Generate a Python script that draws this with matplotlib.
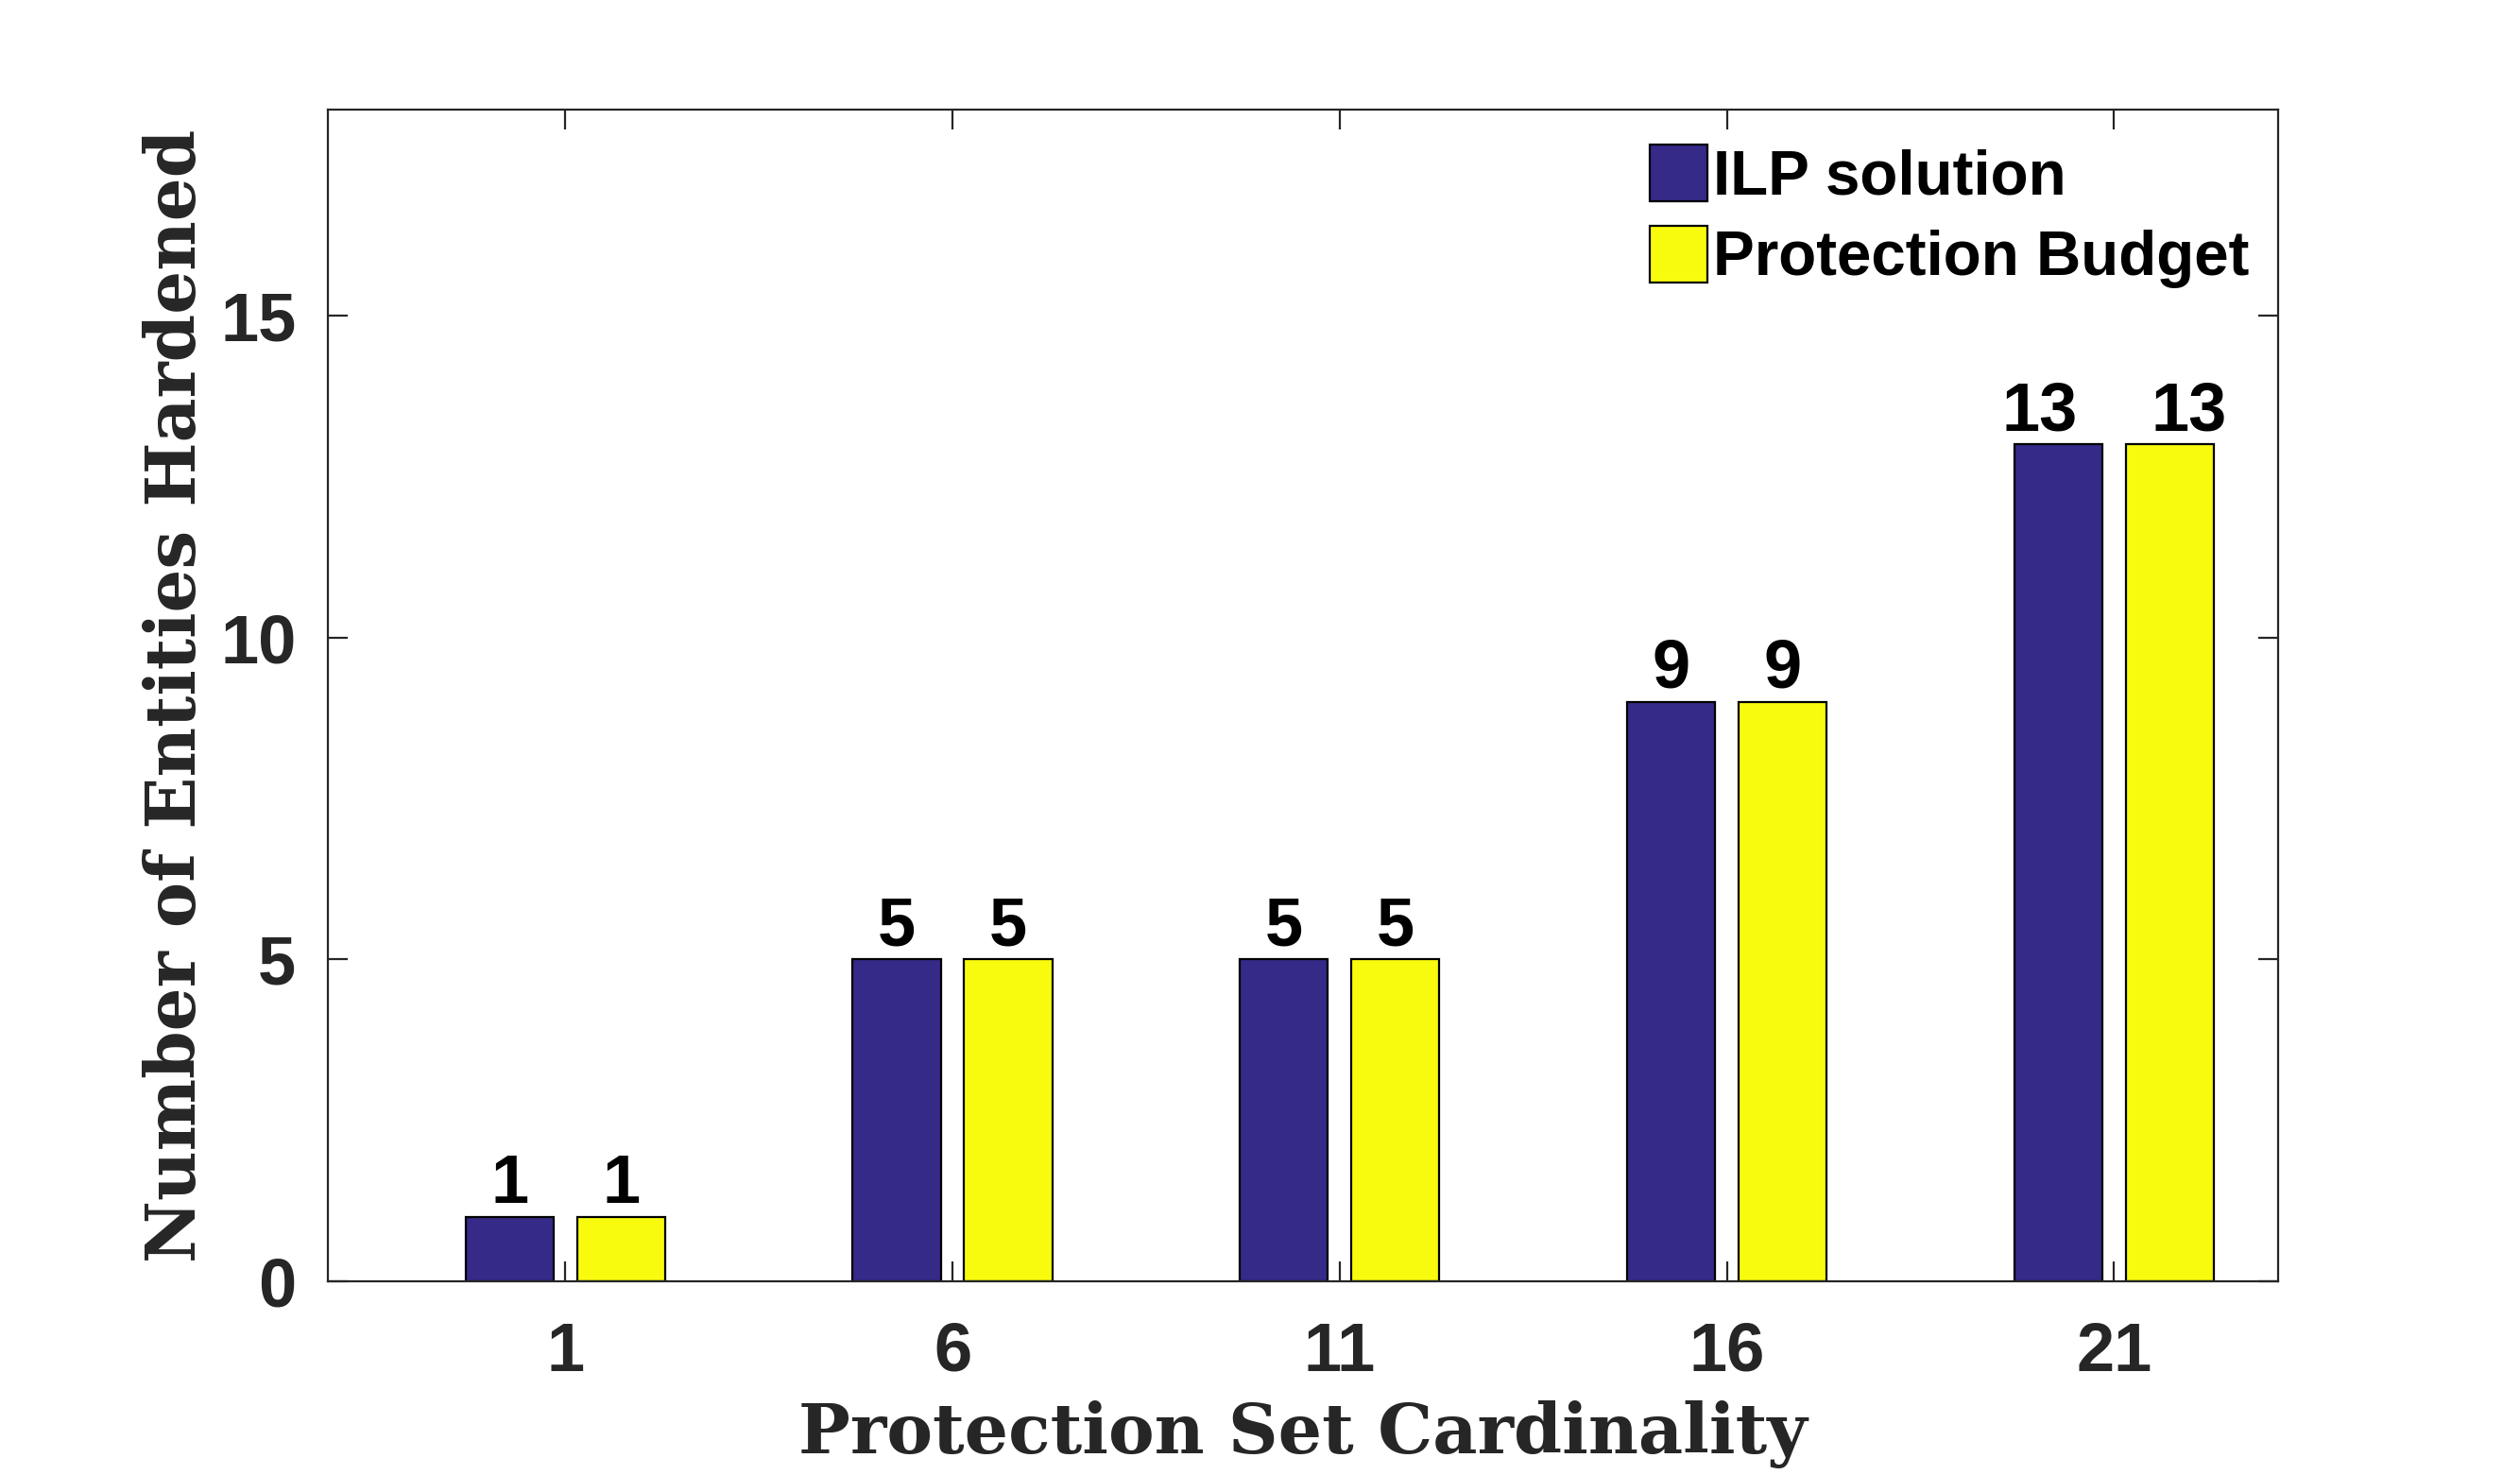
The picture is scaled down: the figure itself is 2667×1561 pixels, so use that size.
import numpy as np
import matplotlib
matplotlib.use("Agg")
import matplotlib.pyplot as plt

# data
cardinality = [1, 6, 11, 16, 21]
ilp_solution = [1, 5, 5, 9, 13]
protection_budget = [1, 5, 5, 9, 13]
series_names = ["ILP solution", "Protection Budget"]

blue = "#352a87"
yellow = "#f9fb0e"
axcol = "#262626"

fig = plt.figure(figsize=(2667 / 200, 1561 / 200), dpi=200)
ax = fig.add_axes([0.130, 0.1313, 0.774, 0.7944])

x = np.array(cardinality, dtype=float)
w = 1.14
off = 0.72
b1 = ax.bar(x - off, ilp_solution, w, color=blue, edgecolor="black", linewidth=0.8, label=series_names[0])
b2 = ax.bar(x + off, protection_budget, w, color=yellow, edgecolor="black", linewidth=0.8, label=series_names[1])

# value labels: first series right aligned, second left aligned (half a digit past centre)
lbl_size = 26
half_digit = 0.556 * lbl_size / 2
for bars, vals, ha, dx in ((b1, ilp_solution, "right", half_digit),
                           (b2, protection_budget, "left", -half_digit)):
    for r, v in zip(bars, vals):
        ax.annotate(str(v), (r.get_x() + r.get_width() / 2, r.get_height()),
                    xytext=(dx, 5.4), textcoords="offset points", ha=ha, va="baseline",
                    fontsize=lbl_size, fontweight="bold", family="Liberation Sans", color="black")

ax.set_xlim(-2.07, 23.12)
ax.set_ylim(0, 18.2)
ax.set_xticks(cardinality)
ax.set_yticks([0, 5, 10, 15])
ax.tick_params(direction="in", length=7.5, width=0.8, top=True, right=True,
               colors=axcol, labelsize=26)
ax.tick_params(axis="x", pad=15)
ax.tick_params(axis="y", pad=12)
for lab in ax.get_xticklabels() + ax.get_yticklabels():
    lab.set_fontweight("bold")
    lab.set_family("Liberation Sans")
    lab.set_color(axcol)
for s in ax.spines.values():
    s.set_color(axcol)
    s.set_linewidth(0.8)

ax.set_xlabel("Protection Set Cardinality", fontsize=26.3, fontweight="bold",
              family="DejaVu Serif", color=axcol, labelpad=6)
ax.set_ylabel("Number of Entities Hardened", fontsize=26, fontweight="bold",
              family="DejaVu Serif", color=axcol, labelpad=4)

leg = ax.legend(loc="upper right", bbox_to_anchor=(1.014, 1.018), frameon=False,
                prop={"family": "Liberation Sans", "weight": "bold", "size": 23.6},
                handlelength=0.93, handleheight=1.03, handletextpad=0.1, labelspacing=0.3)

fig.savefig("out.png", dpi=200, facecolor="white")
